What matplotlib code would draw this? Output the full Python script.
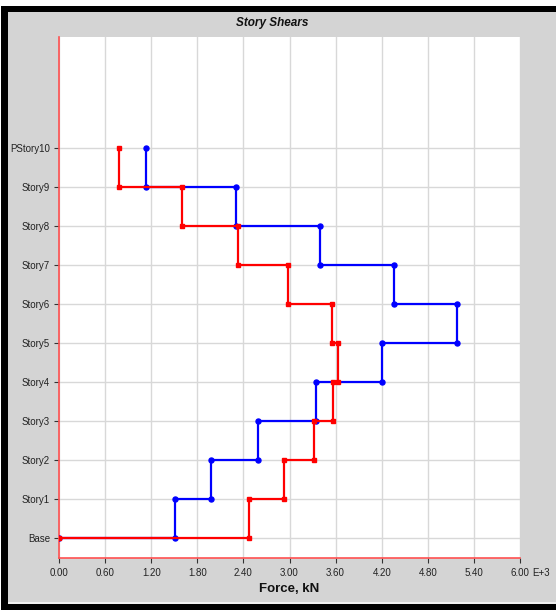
import matplotlib
matplotlib.use("Agg")
import matplotlib.pyplot as plt
from matplotlib.patches import Rectangle
from matplotlib.ticker import FixedLocator, FuncFormatter

plt.rcParams['font.family'] = ['Liberation Sans', 'DejaVu Sans']

# Story names from bottom to top
levels = ["Base", "Story1", "Story2", "Story3", "Story4", "Story5",
          "Story6", "Story7", "Story8", "Story9", "PStory10"]

# Shear carried by each story (kN), listed Story1 .. PStory10
shear_blue = [1510, 1980, 2590, 3340, 4200, 5180, 4360, 3400, 2310, 1130]
shear_red = [2470, 2930, 3320, 3570, 3627, 3557, 2985, 2333, 1597, 785]

x_ticks = [0, 600, 1200, 1800, 2400, 3000, 3600, 4200, 4800, 5400, 6000]

W, H = 556, 610
fig = plt.figure(figsize=(W / 100, H / 100), dpi=100)
fig.patch.set_facecolor('#d4d4d4')


def px_rect(x0, y0, x1, y1, color):
    fig.patches.append(Rectangle((x0 / W, 1 - y1 / H), (x1 - x0) / W, (y1 - y0) / H,
                                 transform=fig.transFigure, facecolor=color,
                                 edgecolor='none', zorder=0))


# frame around the panel
px_rect(0, 0, W, 6, 'white')
px_rect(0, 0, 1, H, 'white')
px_rect(1, 6, W, 12, 'black')
px_rect(1, 6, 8, H, 'black')
px_rect(8, 602, W, 604, '#f0f0f0')
px_rect(1, 604, W, H, 'black')

ax = fig.add_axes([59 / W, 1 - 558 / H, (520 - 59) / W, (558 - 37) / H])
ax.set_facecolor('white')


def step_path(values):
    xs, ys = [], []
    n = len(values)
    for i in range(n - 1, -1, -1):
        v = values[i]
        xs += [v, v]
        ys += [i + 1, i]
    xs.append(0)
    ys.append(0)
    return xs, ys


bx, by = step_path(shear_blue)
rx, ry = step_path(shear_red)
ax.plot(bx, by, color='#0000ff', lw=1.6, marker='o', ms=3.6, zorder=3,
        solid_joinstyle='miter')
ax.plot(rx, ry, color='#ff0000', lw=1.6, marker='s', ms=3.3, zorder=4,
        solid_joinstyle='miter')

ax.set_xlim(0, 6000)
ax.set_ylim(-0.513, 12.846)
ax.xaxis.set_major_locator(FixedLocator(x_ticks))
ax.xaxis.set_major_formatter(FuncFormatter(lambda v, p: f"{v / 1000:.2f}"))
ax.set_yticks(range(len(levels)))
ax.set_yticklabels(levels)

ax.grid(True, color='#d8d8d8', lw=1, zorder=0)
ax.set_axisbelow(True)
for side in ('top', 'right'):
    ax.spines[side].set_visible(False)
for side in ('left', 'bottom'):
    ax.spines[side].set_color('#ff5050')
    ax.spines[side].set_linewidth(1.2)

ax.tick_params(axis='both', colors='#333333', labelsize=7, length=3.5, width=0.8,
               labelcolor='#222222')
ax.tick_params(axis='x', pad=4)
ax.tick_params(axis='y', pad=3)

# exponent suffix sits beside the last tick label, sharing its top edge
label_top = 558 + (3.5 + 4) * 100 / 72
fig.text(532 / W, 1 - label_top / H, "E+3", fontsize=7, color='#222222',
         ha='left', va='top')
fig.text(289 / W, 1 - 589 / H, "Force, kN", fontsize=9.5, fontweight='bold',
         ha='center', va='center', color='#111111')
fig.text(272 / W, 1 - 23 / H, "Story Shears", fontsize=8.5, fontweight='bold',
         style='italic', ha='center', va='center', color='#111111')

fig.savefig("out.png", dpi=100, facecolor=fig.get_facecolor())
